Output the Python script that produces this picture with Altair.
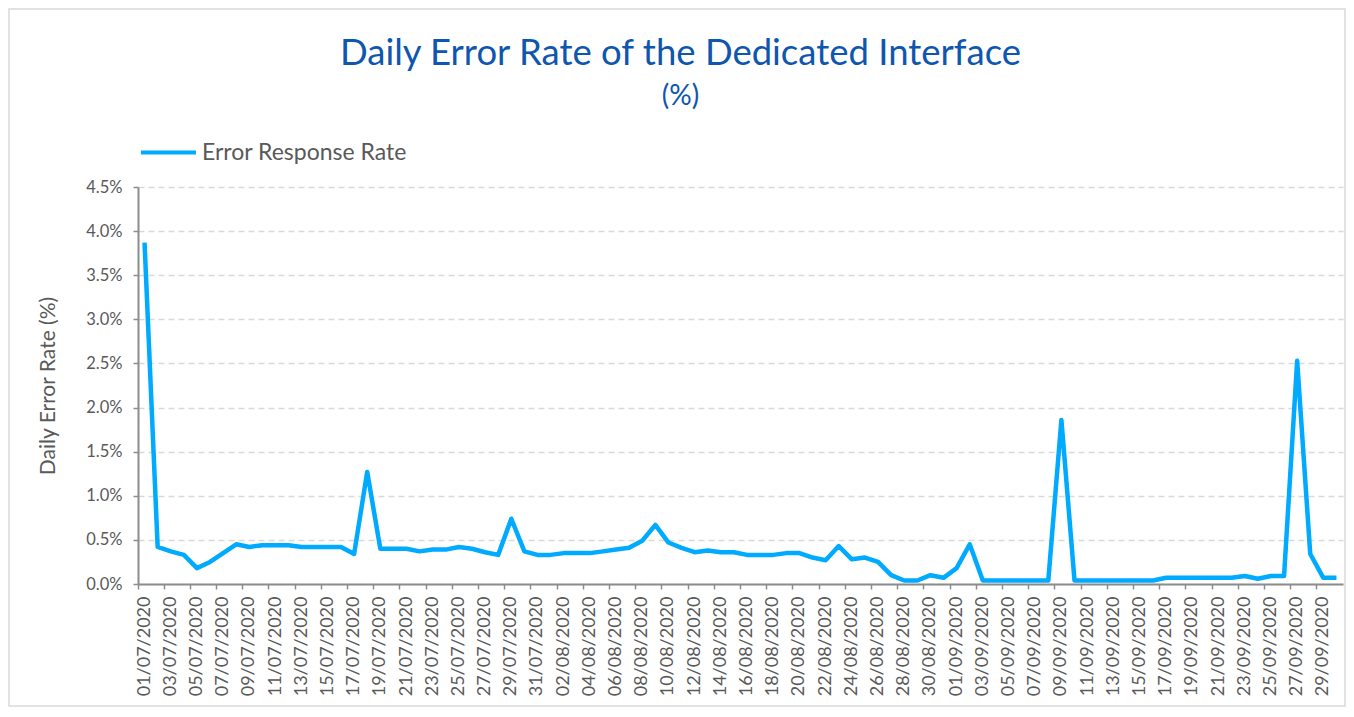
import altair as alt
import pandas as pd

# ---- data -------------------------------------------------------------
dates = [d.strftime("%d/%m/%Y") for d in pd.date_range("2020-07-01", "2020-09-30", freq="D")]

error_rate = [
    3.87, 0.42, 0.37, 0.33, 0.18, 0.25, 0.35, 0.45, 0.42, 0.44,   # 01/07 - 10/07
    0.44, 0.44, 0.42, 0.42, 0.42, 0.42, 0.34, 1.27, 0.40, 0.40,   # 11/07 - 20/07
    0.40, 0.37, 0.39, 0.39, 0.42, 0.40, 0.36, 0.33, 0.74, 0.37,   # 21/07 - 30/07
    0.33, 0.33, 0.35, 0.35, 0.35, 0.37, 0.39, 0.41, 0.49, 0.67,   # 31/07 - 09/08
    0.47, 0.41, 0.36, 0.38, 0.36, 0.36, 0.33, 0.33, 0.33, 0.35,   # 10/08 - 19/08
    0.35, 0.30, 0.27, 0.43, 0.28, 0.30, 0.25, 0.10, 0.04, 0.04,   # 20/08 - 29/08
    0.10, 0.07, 0.18, 0.45, 0.04, 0.04, 0.04, 0.04, 0.04, 0.04,   # 30/08 - 08/09
    1.86, 0.04, 0.04, 0.04, 0.04, 0.04, 0.04, 0.04, 0.07, 0.07,   # 09/09 - 18/09
    0.07, 0.07, 0.07, 0.07, 0.09, 0.06, 0.09, 0.09, 2.53, 0.34,   # 19/09 - 28/09
    0.07, 0.07,                                                   # 29/09 - 30/09
]

series_name = ["Error Response Rate"]
y_ticks = [0.0, 0.5, 1.0, 1.5, 2.0, 2.5, 3.0, 3.5, 4.0, 4.5]
x_label_dates = dates[::2]

title_text = "Daily Error Rate of the Dedicated Interface"
subtitle_text = "(%)"
y_title = "Daily Error Rate (%)"

df = pd.DataFrame({"date": dates, "rate": error_rate, "series": series_name * len(dates)})

# ---- style ------------------------------------------------------------
W, H = 1205, 397
FONT = "Lato"
GREY_TXT = "#595959"
AXIS_GREY = "#8c8c8c"
GRID = "#d9d9d9"
LINE_BLUE = "#00aaff"
TITLE_BLUE = "#0f56ae"

x_enc = alt.X(
    "date:N",
    sort=dates,
    bandPosition=0.5,
    scale=alt.Scale(type="band", paddingInner=0, paddingOuter=0),
    axis=alt.Axis(
        values=x_label_dates,
        bandPosition=0,
        labelAngle=-90,
        labelFont=FONT,
        labelFontSize=18,
        labelColor=GREY_TXT,
        labelPadding=7,
        labelOverlap=False,
        tickSize=5,
        tickColor=AXIS_GREY,
        tickWidth=1.5,
        domainColor=AXIS_GREY,
        domainWidth=2,
        grid=False,
        title=None,
    ),
)

y_enc = alt.Y(
    "rate:Q",
    scale=alt.Scale(domain=[0, 4.5], nice=False, zero=True),
    axis=alt.Axis(
        values=y_ticks,
        labelExpr="format(datum.value, '.1f') + '%'",
        labelFont=FONT,
        labelFontSize=16.5,
        labelColor=GREY_TXT,
        labelPadding=11,
        tickSize=5,
        tickColor=AXIS_GREY,
        tickWidth=1.5,
        domainColor=AXIS_GREY,
        domainWidth=2,
        grid=True,
        gridColor=GRID,
        gridDash=[6, 4],
        gridWidth=1.5,
        title=y_title,
        titleFont=FONT,
        titleFontSize=21,
        titleFontWeight="normal",
        titleColor=GREY_TXT,
        titlePadding=27,
    ),
)

color_enc = alt.Color(
    "series:N",
    scale=alt.Scale(range=[LINE_BLUE]),
    legend=alt.Legend(
        title=None,
        orient="none",
        legendX=1,
        legendY=-64,
        symbolType="stroke",
        symbolSize=3025,
        symbolStrokeWidth=4,
        labelFont=FONT,
        labelFontSize=23,
        labelColor=GREY_TXT,
        labelOffset=4,
        labelLimit=0,
        padding=0,
    ),
)

line = alt.Chart(df).mark_line(strokeWidth=4.5, strokeJoin="round").encode(
    x=x_enc, y=y_enc, color=color_enc
)

frame = alt.Chart(pd.DataFrame({"k": [0]})).mark_rect(
    fill="transparent", stroke=GRID, strokeWidth=1.5
).encode(
    x=alt.value(-129), x2=alt.value(W + 2), y=alt.value(-178), y2=alt.value(H + 122)
)

chart = (
    alt.layer(frame, line)
    .properties(
        width=W,
        height=H,
        padding={"left": 130, "top": 179, "right": 3, "bottom": 124},
        autosize=alt.AutoSizeParams(type="none"),
        title=alt.Title(
            title_text,
            subtitle=subtitle_text,
            font=FONT,
            fontSize=36.5,
            fontWeight="normal",
            color=TITLE_BLUE,
            subtitleFont=FONT,
            subtitleFontSize=28,
            subtitleColor=TITLE_BLUE,
            subtitlePadding=11,
            anchor="middle",
            frame="group",
            dx=-60,
            offset=-103,
        ),
    )
    .configure_view(stroke="transparent")
)

chart.save("out.html", embed_options={"renderer": "svg", "actions": False})
